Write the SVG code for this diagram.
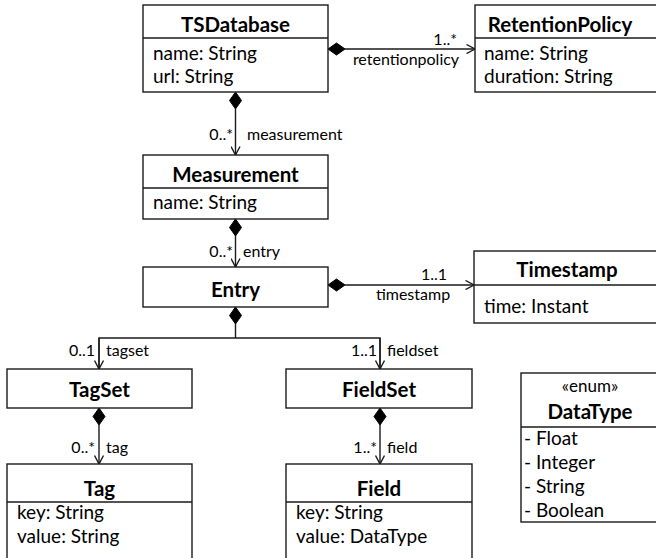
<svg xmlns="http://www.w3.org/2000/svg" width="656" height="558" viewBox="0 0 656 558">
  <style>
    .box { fill: #fff; stroke: #1a1a1a; stroke-width: 1.4; }
    .sep { stroke: #1a1a1a; stroke-width: 1.4; }
    .title { font-family: Lato, "Liberation Sans", sans-serif; font-weight: bold; font-size: 20.5px; fill: #000; text-anchor: middle; }
    .attr { font-family: Lato, "Liberation Sans", sans-serif; font-size: 19px; fill: #000; }
    .stereo { font-family: Lato, "Liberation Sans", sans-serif; font-size: 17px; fill: #000; text-anchor: middle; }
    .lbl { font-family: Lato, "Liberation Sans", sans-serif; font-size: 16px; fill: #000; }
    .end { text-anchor: end; }
    .mid { text-anchor: middle; }
    .edge { fill: none; stroke: #1a1a1a; stroke-width: 1.4; }
    .dia { fill: #000; stroke: #000; stroke-width: 1; }
  </style>
  <defs>
    <marker id="open" viewBox="0 0 10 10" refX="9.5" refY="5" markerWidth="10" markerHeight="10" markerUnits="userSpaceOnUse" orient="auto">
      <path d="M1,0.5 L9.5,5 L1,9.5" fill="none" stroke="#1a1a1a" stroke-width="1.4"/>
    </marker>
  </defs>

  <g id="connectors">
    <!-- TSDatabase -> RetentionPolicy -->
    <path class="edge" d="M345,49 H475" marker-end="url(#open)"/>
    <path class="dia" d="M328,49 L336.5,43 L345,49 L336.5,55 Z"/>
    <!-- TSDatabase -> Measurement -->
    <path class="edge" d="M235.5,109 V155" marker-end="url(#open)"/>
    <path class="dia" d="M235.5,92 L241.5,100.5 L235.5,109 L229.5,100.5 Z"/>
    <!-- Measurement -> Entry -->
    <path class="edge" d="M235.5,236 V267" marker-end="url(#open)"/>
    <path class="dia" d="M235.5,219 L241.5,227.5 L235.5,236 L229.5,227.5 Z"/>
    <!-- Entry -> Timestamp -->
    <path class="edge" d="M345,285 H474" marker-end="url(#open)"/>
    <path class="dia" d="M328,285 L336.5,279 L345,285 L336.5,291 Z"/>
    <!-- Entry -> TagSet / FieldSet -->
    <path class="edge" d="M235.5,324 V338"/>
    <path class="edge" d="M99,369 V338 H380 V369"/>
    <path class="edge" d="M99,338 V369" marker-end="url(#open)"/>
    <path class="edge" d="M380,338 V369" marker-end="url(#open)"/>
    <path class="dia" d="M235.5,307 L241.5,315.5 L235.5,324 L229.5,315.5 Z"/>
    <!-- TagSet -> Tag -->
    <path class="edge" d="M99,425 V464" marker-end="url(#open)"/>
    <path class="dia" d="M99,408 L105,416.5 L99,425 L93,416.5 Z"/>
    <!-- FieldSet -> Field -->
    <path class="edge" d="M380,425 V464" marker-end="url(#open)"/>
    <path class="dia" d="M380,408 L386,416.5 L380,425 L374,416.5 Z"/>

    <!-- role names and multiplicities -->
    <text class="lbl end" x="457" y="45">1..*</text>
    <text class="lbl mid" x="406" y="65">retentionpolicy</text>
    <text class="lbl end" x="233" y="140">0..*</text>
    <text class="lbl" x="247" y="140">measurement</text>
    <text class="lbl end" x="233" y="257">0..*</text>
    <text class="lbl" x="243" y="257">entry</text>
    <text class="lbl end" x="447" y="280">1..1</text>
    <text class="lbl mid" x="413" y="300">timestamp</text>
    <text class="lbl end" x="95" y="356">0..1</text>
    <text class="lbl" x="106" y="356">tagset</text>
    <text class="lbl end" x="377" y="356">1..1</text>
    <text class="lbl" x="387" y="356">fieldset</text>
    <text class="lbl end" x="95" y="453">0..*</text>
    <text class="lbl" x="106" y="453">tag</text>
    <text class="lbl end" x="377" y="453">1..*</text>
    <text class="lbl" x="387" y="453">field</text>
  </g>

  <g id="TSDatabase">
    <rect class="box" x="143" y="5" width="185" height="87"/>
    <line class="sep" x1="143" y1="38" x2="328" y2="38"/>
    <text class="title" x="235.5" y="32">TSDatabase</text>
    <text class="attr" x="153" y="60">name: String</text>
    <text class="attr" x="153" y="83">url: String</text>
  </g>

  <g id="RetentionPolicy">
    <rect class="box" x="475" y="5" width="190" height="87"/>
    <line class="sep" x1="475" y1="38" x2="665" y2="38"/>
    <text class="title" x="560" y="32">RetentionPolicy</text>
    <text class="attr" x="484" y="60">name: String</text>
    <text class="attr" x="484" y="83">duration: String</text>
  </g>

  <g id="Measurement">
    <rect class="box" x="143" y="155" width="185" height="64"/>
    <line class="sep" x1="143" y1="188" x2="328" y2="188"/>
    <text class="title" x="235.5" y="182">Measurement</text>
    <text class="attr" x="153" y="209">name: String</text>
  </g>

  <g id="Entry">
    <rect class="box" x="143" y="267" width="185" height="40"/>
    <text class="title" x="235.5" y="297">Entry</text>
  </g>

  <g id="Timestamp">
    <rect class="box" x="474" y="251" width="190" height="72"/>
    <line class="sep" x1="474" y1="285" x2="664" y2="285"/>
    <text class="title" x="567" y="277">Timestamp</text>
    <text class="attr" x="484" y="313">time: Instant</text>
  </g>

  <g id="TagSet">
    <rect class="box" x="7" y="369" width="185" height="39"/>
    <text class="title" x="99.5" y="397">TagSet</text>
  </g>

  <g id="FieldSet">
    <rect class="box" x="286" y="369" width="186" height="39"/>
    <text class="title" x="379" y="397">FieldSet</text>
  </g>

  <g id="Tag">
    <rect class="box" x="7" y="464" width="185" height="104"/>
    <line class="sep" x1="7" y1="502" x2="192" y2="502"/>
    <text class="title" x="99.5" y="496">Tag</text>
    <text class="attr" x="17" y="519">key: String</text>
    <text class="attr" x="17" y="543">value: String</text>
  </g>

  <g id="Field">
    <rect class="box" x="286" y="464" width="186" height="104"/>
    <line class="sep" x1="286" y1="502" x2="472" y2="502"/>
    <text class="title" x="379" y="496">Field</text>
    <text class="attr" x="296" y="519">key: String</text>
    <text class="attr" x="296" y="543">value: DataType</text>
  </g>

  <g id="DataType">
    <rect class="box" x="521" y="373" width="145" height="149"/>
    <line class="sep" x1="521" y1="427" x2="666" y2="427"/>
    <text class="stereo" x="590" y="392">«enum»</text>
    <text class="title" x="590" y="419">DataType</text>
    <text class="attr" x="524" y="445">- Float</text>
    <text class="attr" x="524" y="469">- Integer</text>
    <text class="attr" x="524" y="493">- String</text>
    <text class="attr" x="524" y="517">- Boolean</text>
  </g>
</svg>
